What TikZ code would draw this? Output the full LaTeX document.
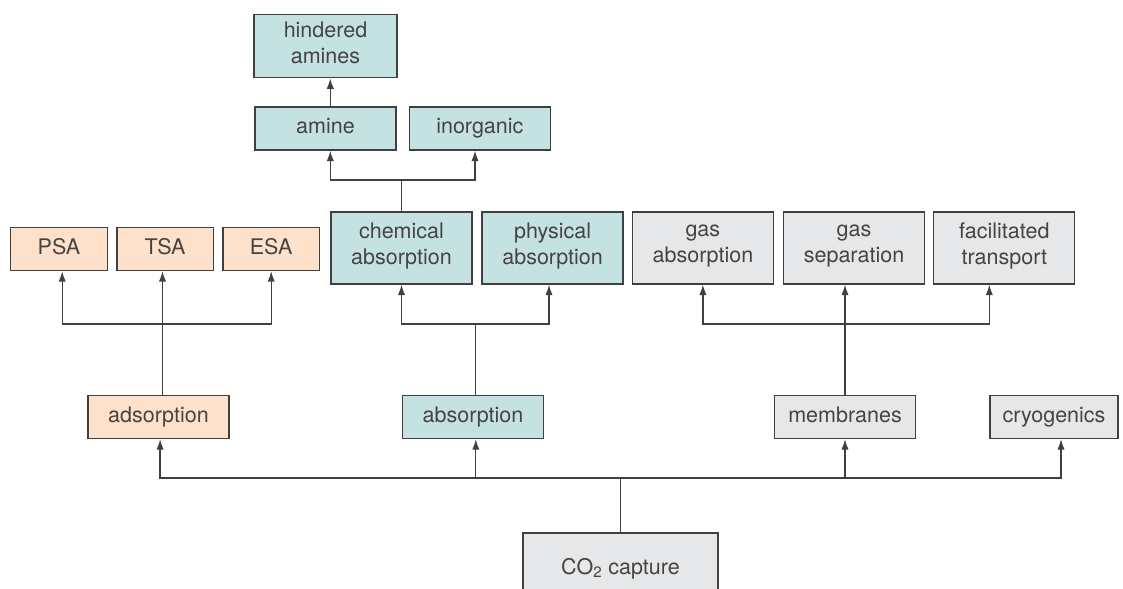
\documentclass[tikz,border=0pt]{standalone}
\usepackage{fontspec}
\setmainfont{TeX Gyre Heros}
\usetikzlibrary{positioning,arrows.meta}

\definecolor{tealfill}{HTML}{C5E2E3}
\definecolor{peachfill}{HTML}{FDE1CB}
\definecolor{greyfill}{HTML}{E6E7E8}
\definecolor{edgegrey}{HTML}{404040}
\definecolor{textgrey}{HTML}{444444}

\begin{document}
\begin{tikzpicture}[
      x=0.025cm, y=-0.025cm,
      box/.style={rectangle, draw=edgegrey, line width=0.9pt, inner sep=0pt,
                  align=center, text=textgrey, font=\fontsize{15.3}{18.5}\selectfont,
                  execute at begin node=\strut, execute at end node=\strut},
      absbox/.style={box, fill=tealfill},
      adsbox/.style={box, fill=peachfill},
      memfbox/.style={box, fill=greyfill},
      narrow/.style={minimum width=3.525cm, minimum height=1.075cm},
      tall/.style={minimum width=3.525cm, minimum height=1.8cm},
      small/.style={minimum width=2.41cm, minimum height=1.075cm},
      arrow/.style={-{Latex[length=2.6mm,width=1.8mm]}, line width=0.9pt, draw=edgegrey},
      link/.style={line width=0.9pt, draw=edgegrey}
    ]
    \useasboundingbox (0,0) rectangle (1123,588);

    % absorption branch
    \node[absbox, narrow] (amine) at (325.5,128.5) {amine};
    \node[absbox, narrow, right=0.3cm of amine] (inorg) {inorganic};
    \node[absbox, minimum width=3.575cm, minimum height=1.575cm, above=0.7cm of amine] (hind) {hindered\\amines};
    \node[absbox, tall] (chem) at (401.5,248) {chemical\\absorption};
    \node[absbox, tall, right=0.22cm of chem] (phys) {physical\\absorption};
    \node[absbox, narrow] (abso) at (473,417) {absorption};

    % membrane branch
    \node[memfbox, tall, right=0.2cm of phys] (gasabs) {gas\\absorption};
    \node[memfbox, tall, right=0.22cm of gasabs] (gassep) {gas\\separation};
    \node[memfbox, tall, right=0.2cm of gassep] (fac) {facilitated\\transport};
    \node[memfbox, narrow] (mem) at (845,417) {membranes};
    \node[memfbox, narrow, minimum width=3.2cm] (cryo) at (1054,417) {cryogenics};

    % adsorption branch
    \node[adsbox, small] (psa) at (59,249) {PSA};
    \node[adsbox, small, right=0.21cm of psa] (tsa) {TSA};
    \node[adsbox, small, right=0.21cm of tsa] (esa) {ESA};
    \node[adsbox, narrow] (adso) at (158.5,417) {adsorption};

    % root
    \node[memfbox, minimum width=4.875cm, minimum height=1.8cm] (co2) at (620.5,569) {CO\textsubscript{2} capture};

    % root to methods
    \draw[link] (co2.north) -- (co2.north |- 0,478) coordinate (jco2);
    \draw[arrow] (jco2) -| ([xshift=0.04cm]adso.south);
    \draw[arrow] (jco2) -| ([xshift=0.07cm]abso.south);
    \draw[arrow] (jco2) -| (mem.south);
    \draw[arrow] (jco2) -| ([xshift=0.175cm]cryo.south);

    % adsorption
    \draw[arrow] ([xshift=0.1cm]adso.north) -- ([xshift=0.1cm]adso.north |- tsa.south);
    \coordinate (jads) at ([xshift=0.1cm]adso.north |- 0,324);
    \draw[arrow] (jads) -| ([xshift=0.08cm]psa.south);
    \draw[arrow] (jads) -| (esa.south);

    % absorption
    \draw[link] ([xshift=0.07cm]abso.north) -- ([xshift=0.07cm]abso.north |- 0,324) coordinate (jabs);
    \draw[arrow] (jabs) -| (chem.south);
    \draw[arrow] (jabs) -| ([xshift=-0.09cm]phys.south);
    \draw[link] (chem.north) -- (chem.north |- 0,180) coordinate (jchem);
    \draw[arrow] (jchem) -| ([xshift=0.12cm]amine.south);
    \draw[arrow] (jchem) -| ([xshift=-0.12cm]inorg.south);
    \draw[arrow] ([xshift=0.12cm]amine.north) -- ([xshift=0.12cm]amine.north |- hind.south);

    % membranes
    \draw[arrow] (mem.north) -- (mem.north |- gassep.south);
    \coordinate (jmem) at (mem.north |- 0,324);
    \draw[arrow] (jmem) -| (gasabs.south);
    \draw[arrow] (jmem) -| ([xshift=-0.375cm]fac.south);
  \end{tikzpicture}
\end{document}
